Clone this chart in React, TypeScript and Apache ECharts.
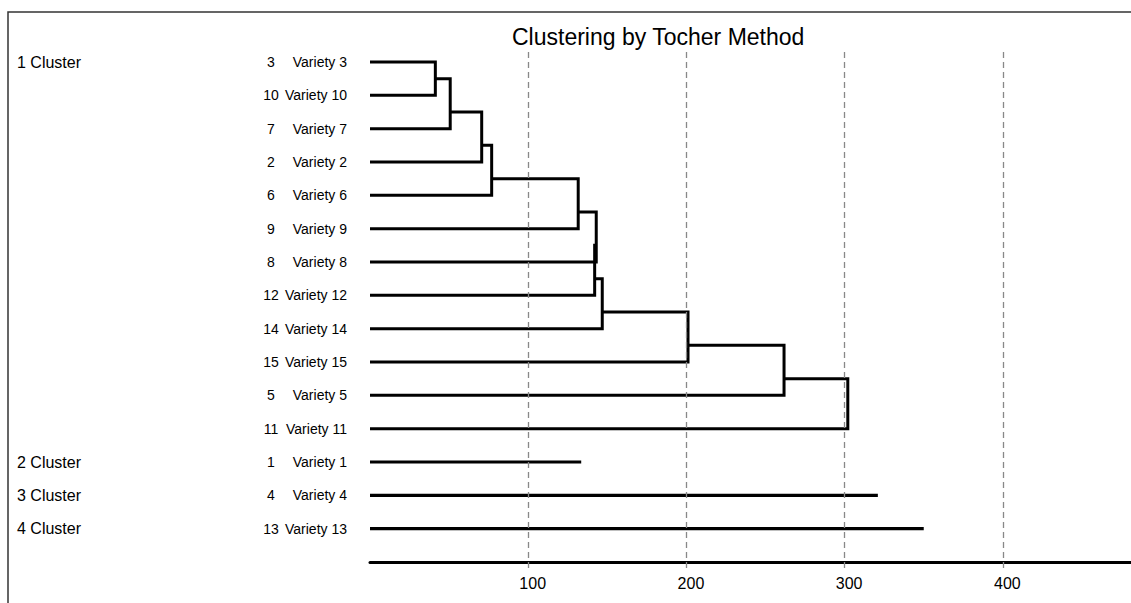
import React, { useEffect, useRef } from "react";
import * as echarts from "echarts";

// Row order (top to bottom) of the dendrogram leaves
const leafIds = [3, 10, 7, 2, 6, 9, 8, 12, 14, 15, 5, 11, 1, 4, 13];
const leafNames = [
  "Variety 3", "Variety 10", "Variety 7", "Variety 2", "Variety 6", "Variety 9",
  "Variety 8", "Variety 12", "Variety 14", "Variety 15", "Variety 5", "Variety 11",
  "Variety 1", "Variety 4", "Variety 13",
];
// Clusters (in row order) and how many rows each holds
const clusterNames = ["1 Cluster", "2 Cluster", "3 Cluster", "4 Cluster"];
const clusterSizes = [12, 1, 1, 1];
// Fusion heights at which rows 2..12 of cluster 1 join the growing group
const cluster1Fusion = [41.3, 50.7, 70.6, 76.9, 131.6, 143, 142, 146.8, 201, 261.7, 302];
// Lengths of the single-member cluster branches
const singletonLengths = [133.5, 321, 350];
// Tick labels of the distance axis
const xTicks = [100, 200, 300, 400];

const FONT = "'Liberation Sans Narrow', 'Arial Narrow', 'Liberation Sans', Arial, sans-serif";

export default function App() {
  const ref = useRef<HTMLDivElement>(null);
  useEffect(() => {
    if (!ref.current) return;
    const chart = echarts.init(ref.current, undefined, { renderer: "svg" });

    // cluster label per row
    const clusterAtRow: string[] = leafIds.map(() => "");
    let r0 = 0;
    clusterSizes.forEach((s, i) => {
      clusterAtRow[r0] = clusterNames[i];
      r0 += s;
    });

    const lineSeries: any[] = [];
    for (let k = 1; k <= cluster1Fusion.length; k++) {
      const h = cluster1Fusion[k - 1];
      const data =
        k === 1
          ? [[0, 1], [h, 1], [h, 0], [0, 0]]
          : [[0, k], [h, k], [h, k - 1.5], [cluster1Fusion[k - 2], k - 1.5]];
      lineSeries.push({
        type: "line",
        data,
        showSymbol: false,
        symbol: "none",
        z: 3,
        lineStyle: { color: "#000", width: 3, join: "miter", cap: "butt" },
        silent: true,
      });
    }
    const firstSingle = clusterSizes[0];
    singletonLengths.forEach((len, j) => {
      const r = firstSingle + j;
      lineSeries.push({
        type: "line",
        data: [[0, r], [len, r]],
        showSymbol: false,
        symbol: "none",
        z: 3,
        lineStyle: { color: "#000", width: 3.2 },
        silent: true,
      });
    });

    const option: any = {
      animation: false,
      backgroundColor: "#fff",
      title: {
        text: "Clustering by Tocher Method",
        left: 512,
        top: 25,
        padding: 0,
        textStyle: { fontSize: 23, fontWeight: "normal", color: "#000", fontFamily: FONT },
      },
      graphic: [
        {
          type: "rect",
          shape: { x: 8, y: 12, width: 1140, height: 620 },
          style: { fill: "none", stroke: "#333", lineWidth: 1.5 },
          silent: true,
          z: 0,
        },
      ],
      grid: { left: 370, right: 0, top: 52, bottom: 41 },
      xAxis: {
        type: "value",
        min: 0,
        max: 481,
        interval: 100,
        axisLine: { show: true, onZero: false, lineStyle: { color: "#000", width: 3 } },
        axisTick: {
          show: true,
          customValues: xTicks,
          length: 10,
          lineStyle: { color: "#888", width: 1.3, type: [6, 4] },
        },
        axisLabel: {
          customValues: xTicks,
          margin: 13,
          fontSize: 16,
          color: "#000",
          fontFamily: FONT,
          padding: [0, 0, 0, 9],
        },
        splitLine: { show: false },
      },
      yAxis: {
        type: "value",
        inverse: true,
        min: -0.3,
        max: 15,
        axisLine: { show: false },
        axisTick: { show: false },
        splitLine: { show: false },
        axisLabel: {
          customValues: leafIds.map((_, i) => i),
          margin: 23,
          formatter: (v: number) => {
            const i = Math.round(v);
            const c = clusterAtRow[i] || " ";
            return `{c|${c}}{n|${leafIds[i]}}{v|${leafNames[i]}}`;
          },
          rich: {
            c: { fontSize: 16, width: 243, align: "left", color: "#000", fontFamily: FONT },
            n: { fontSize: 14, width: 22, align: "center", color: "#000", fontFamily: FONT },
            v: { fontSize: 14, width: 65, align: "right", color: "#000", fontFamily: FONT },
          },
        },
      },
      series: [
        {
          type: "line",
          data: [],
          z: 1,
          silent: true,
          markLine: {
            silent: true,
            symbol: "none",
            label: { show: false },
            lineStyle: { color: "#888", width: 1.3, type: [6, 4] },
            data: xTicks.map((t) => ({ xAxis: t })),
          },
        },
        ...lineSeries,
      ],
    };
    chart.setOption(option);
    return () => chart.dispose();
  }, []);

  return (
    <div
      ref={ref}
      style={{ position: "fixed", left: 0, top: 0, width: 1131, height: 603, overflow: "hidden", background: "#fff" }}
    />
  );
}
